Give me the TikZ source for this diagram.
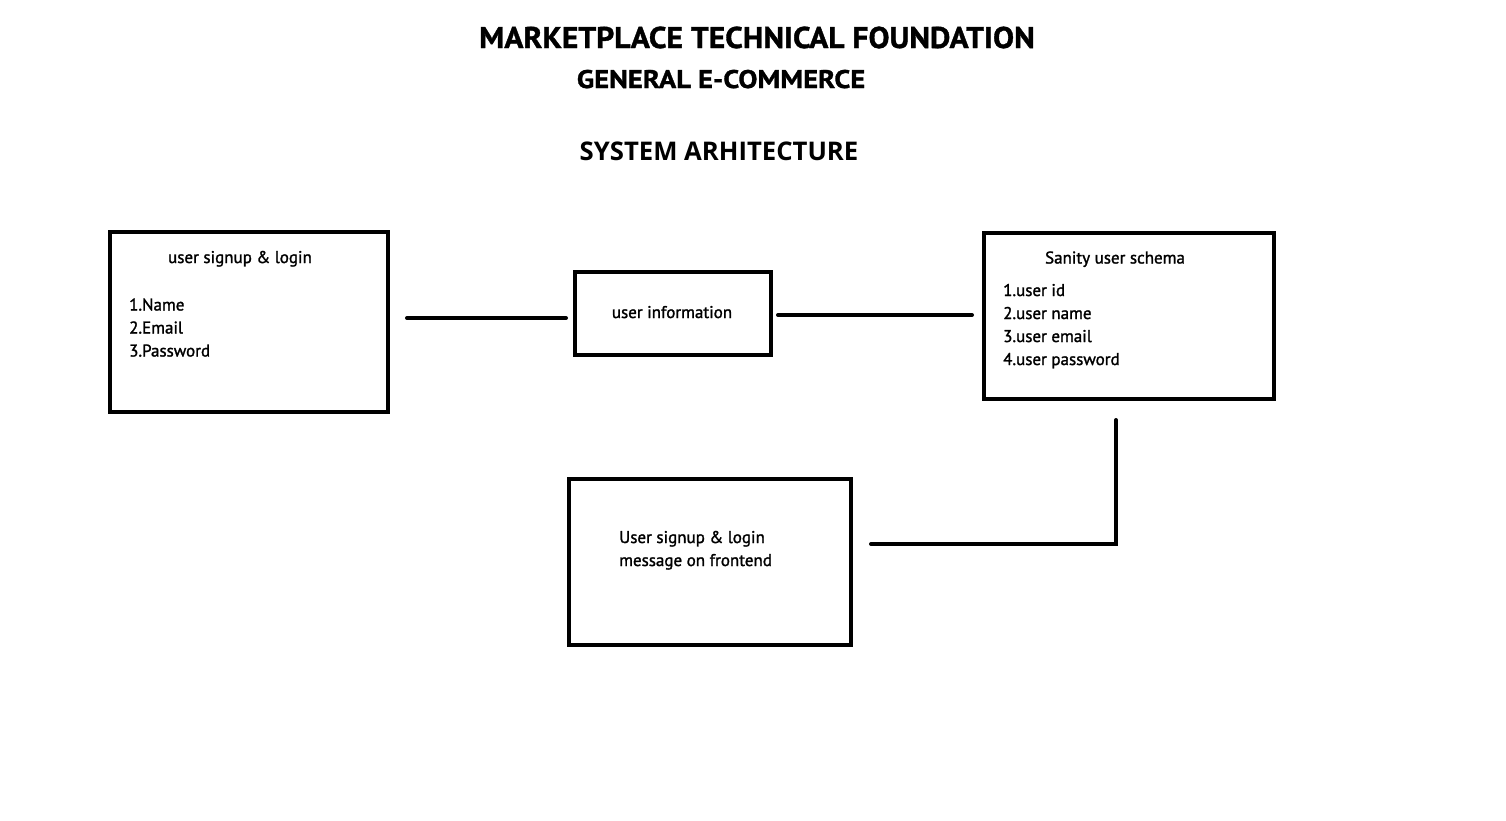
\documentclass[tikz,border=0pt]{standalone}
\usepackage{fontspec}
\setmainfont{PT Sans}
\newfontfamily\headfont{Open Sans}
\newfontfamily\boxfont{PT Sans}[FakeBold=1.5]
\newfontfamily\titlefont{PT Sans Bold}[FakeBold=1.2, FakeStretch=1.05]
\newfontfamily\subtitlefont{PT Sans Bold}[FakeBold=1.2, FakeStretch=1.12]
\usetikzlibrary{positioning}

\begin{document}
\begin{tikzpicture}[x=1pt, y=-1pt,
  box/.style={draw=black, line width=4pt, inner sep=0pt},
  link/.style={draw=black, line width=4pt, line cap=round},
  txt/.style={font=\boxfont\fontsize{17}{23}\selectfont, inner sep=0pt}]
  \useasboundingbox[fill=white] (0,0) rectangle (1506,820);
  \node[font=\titlefont\fontsize{30}{36}\selectfont, inner sep=0pt, anchor=base] (title) at (757,48) {MARKETPLACE TECHNICAL FOUNDATION};
  \node[font=\subtitlefont\fontsize{25.5}{30}\selectfont, inner sep=0pt, anchor=base] (subtitle) at (721,88) {GENERAL E-COMMERCE};
  \node[font=\headfont\bfseries\fontsize{25.7}{30}\selectfont, inner sep=0pt, anchor=base] (arch) at (719,160) {SYSTEM ARHITECTURE};
  \node[box, minimum width=278pt, minimum height=180pt] (signup) at (249,322) {};
  \node[box, minimum width=196pt, minimum height=83pt] (info) at (673,313.5) {};
  \node[box, minimum width=290pt, minimum height=166pt] (schema) at (1129,316) {};
  \node[box, minimum width=282pt, minimum height=166pt] (message) at (710,562) {};
  \node[txt, anchor=base] (signuphead) at (240,263) {user signup \& login};
  \node[txt, anchor=base west, align=left] (signuplist) at (129,356.5) {1.Name\\2.Email\\3.Password};
  \node[txt, anchor=base] (infohead) at (672,318) {user information};
  \node[txt, anchor=base] (schemahead) at (1115,263.5) {Sanity user schema};
  \node[txt, anchor=base west, align=left] (schemalist) at (1003,365) {1.user id\\2.user name\\3.user email\\4.user password};
  \node[txt, anchor=base west, align=left] (messagetxt) at (619,566) {User signup \& login\\message on frontend};
  \draw[link] ([xshift=17pt, yshift=4pt]signup.east) -- ([xshift=-7pt, yshift=-4.5pt]info.west);
  \draw[link] ([xshift=5pt, yshift=-1.5pt]info.east) -- ([xshift=-10pt, yshift=1pt]schema.west);
  \draw[link] ([xshift=-13pt, yshift=-19pt]schema.south) |- ([xshift=18pt, yshift=18pt]message.east);
\end{tikzpicture}
\end{document}
